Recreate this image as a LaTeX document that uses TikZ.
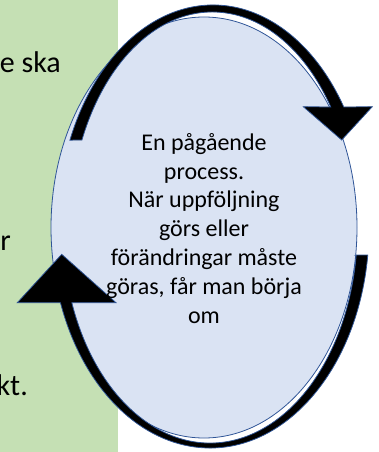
\documentclass[tikz,border=0pt]{standalone}
\usepackage{fontspec}
\setmainfont{Carlito}
\usetikzlibrary{shapes.geometric}
\definecolor{grn}{HTML}{C5E0B4}
\definecolor{ellfill}{HTML}{DAE3F3}
\definecolor{ellline}{HTML}{2F5597}
\begin{document}
\begin{tikzpicture}[x=1pt,y=1pt,
  bandstyle/.style={fill=black, draw=ellline, line width=0.75pt, line join=miter},
  lefttext/.style={font=\fontsize{30}{36}\selectfont, anchor=base east, inner sep=0pt, text=black},
  midtext/.style={font=\fontsize{24}{28.8}\selectfont, align=center, inner sep=0pt, text=black}]
\useasboundingbox (0,0) rectangle (379,-452);
\fill[grn] (0,0) rectangle (118,-452);
\node[lefttext] (t1) at (61,-73) {e ska};
\node[lefttext] (t2) at (11,-250) {r};
\node[lefttext] (t3) at (28,-395) {kt.};
\node[draw=ellline, fill=ellfill, ellipse, minimum width=306pt, minimum height=421pt, inner sep=0pt, line width=0.8pt] (proc) at (204,-227.5) {};
\coordinate (ct) at (213,-228);
\draw[bandstyle] (ct) ++(156.8:155.7pt and 223pt)
  arc[start angle=156.8, end angle=32.86, x radius=155.7pt, y radius=223pt]
  -- (372.3,-106.7) -- (341.7,-140) -- (303.3,-106.7) -- (330.8,-107)
  arc[start angle=34.07, end angle=155.96, x radius=142.9pt, y radius=216pt] -- cycle;
\draw[bandstyle] (356.2,-255) -- (367.8,-255)
  arc[start angle=-7.05, end angle=-160.15, x radius=159pt, y radius=220pt]
  -- (17.3,-302.7) -- (61.7,-254.3) -- (116,-302.7) -- (71.8,-302.7)
  arc[start angle=-159.67, end angle=-7.21, x radius=147.4pt, y radius=215pt] -- cycle;
\node[midtext, anchor=base] (txt) at (204,-323) {En pågående\\process.\\När uppföljning\\görs eller\\förändringar måste\\göras, får man börja\\om};
\end{tikzpicture}
\end{document}
